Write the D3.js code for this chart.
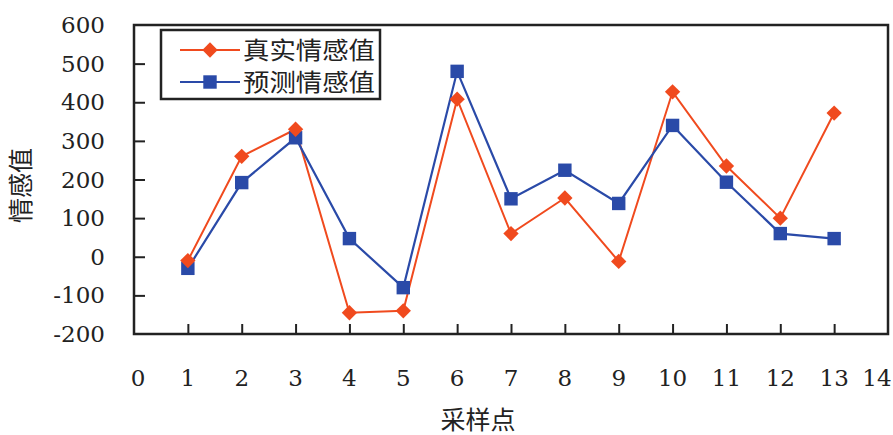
<!DOCTYPE html>
<html>
<head>
<meta charset="utf-8">
<script src="https://cdn.jsdelivr.net/npm/d3@7"></script>
<style>
  body { margin: 0; background: #fff; }
  svg text.num { font-family: "DejaVu Serif", serif; }
  svg text.cjk { font-family: "Noto Sans CJK SC", sans-serif; }
</style>
</head>
<body>
<div id="chart-area"></div>
<script>
// sample points and the two series
const points = [1, 2, 3, 4, 5, 6, 7, 8, 9, 10, 11, 12, 13];
const realValues = [-10, 260, 330, -145, -140, 408, 60, 152, -12, 427, 235, 100, 372];
const predValues = [-30, 192, 308, 47, -80, 480, 150, 224, 138, 340, 193, 60, 47];
const xTicks = [0, 1, 2, 3, 4, 5, 6, 7, 8, 9, 10, 11, 12, 13, 14];
const yTicks = [-200, -100, 0, 100, 200, 300, 400, 500, 600];
const seriesNames = ["真实情感值", "预测情感值"];

const red = "#f04a1e";
const blue = "#2a4aa8";

const W = 893, H = 435;
const margin = { top: 25, right: 5, bottom: 101, left: 134 };
const width = W - margin.left - margin.right;
const height = H - margin.top - margin.bottom;

const svg = d3.select("#chart-area")
    .append("svg")
    .attr("width", W)
    .attr("height", H);

const g = svg.append("g")
    .attr("transform", "translate(" + margin.left + "," + margin.top + ")");

const x = d3.scaleLinear().domain([0, 14]).range([0, width]);
const y = d3.scaleLinear().domain([-200, 600]).range([height, 0]);

/** Axes: ticks point inward, labels placed by hand */
const bottomAxis = d3.axisBottom(x)
    .tickValues(points)
    .tickSize(-10)
    .tickFormat("");
g.append("g")
    .attr("transform", "translate(0," + height + ")")
    .call(bottomAxis)
    .call(s => s.select(".domain").remove());

const leftAxis = d3.axisLeft(y)
    .tickValues(yTicks.slice(1, -1))
    .tickSize(-11)
    .tickFormat("");
g.append("g")
    .call(leftAxis)
    .call(s => s.select(".domain").remove());

g.selectAll(".tick line").attr("stroke", "#222").attr("stroke-width", 2);

// frame
g.append("rect")
    .attr("x", 0).attr("y", 0)
    .attr("width", width).attr("height", height)
    .attr("fill", "none")
    .attr("stroke", "#222")
    .attr("stroke-width", 2.5);

// y tick labels
g.selectAll(".ylab")
    .data(yTicks)
    .enter()
    .append("text")
    .attr("class", "num")
    .attr("x", -29)
    .attr("y", d => y(d))
    .attr("dy", "0.35em")
    .attr("text-anchor", "end")
    .attr("font-size", "23px")
    .attr("fill", "#222")
    .text(d => d);

// x tick labels
g.selectAll(".xlab")
    .data(xTicks)
    .enter()
    .append("text")
    .attr("class", "num")
    .attr("x", d => x(d) + (d === 0 ? 4 : d === 14 ? -11 : 0))
    .attr("y", height + 52)
    .attr("text-anchor", "middle")
    .attr("font-size", "23px")
    .attr("fill", "#222")
    .text(d => d);

/** Titles */
g.append("text")
    .attr("class", "cjk")
    .attr("transform", "translate(" + (-104) + "," + (height / 2 + 6) + ") rotate(-90)")
    .attr("text-anchor", "middle")
    .attr("font-size", "25px")
    .attr("fill", "#222")
    .text("情感值");

g.append("text")
    .attr("class", "cjk")
    .attr("x", 344)
    .attr("y", height + 95)
    .attr("text-anchor", "middle")
    .attr("font-size", "25px")
    .attr("fill", "#222")
    .text("采样点");

/** Lines */
const line = d3.line()
    .x((d, i) => x(points[i]))
    .y(d => y(d));

g.append("path")
    .datum(realValues)
    .attr("d", line)
    .attr("fill", "none")
    .attr("stroke", red)
    .attr("stroke-width", 2);

g.append("path")
    .datum(predValues)
    .attr("d", line)
    .attr("fill", "none")
    .attr("stroke", blue)
    .attr("stroke-width", 2.2);

const diamond = d3.symbol().type(d3.symbolDiamond2).size(150);
const square = d3.symbol().type(d3.symbolSquare).size(180);

g.selectAll(".pred")
    .data(predValues)
    .enter()
    .append("path")
    .attr("class", "pred")
    .attr("d", square)
    .attr("transform", (d, i) => "translate(" + x(points[i]) + "," + y(d) + ")")
    .attr("fill", blue);

g.selectAll(".real")
    .data(realValues)
    .enter()
    .append("path")
    .attr("class", "real")
    .attr("d", diamond)
    .attr("transform", (d, i) => "translate(" + x(points[i]) + "," + y(d) + ")")
    .attr("fill", red);

/** Legend */
const legend = svg.append("g").attr("transform", "translate(161,30)");
legend.append("rect")
    .attr("width", 219).attr("height", 69)
    .attr("fill", "#fff")
    .attr("stroke", "#222")
    .attr("stroke-width", 2.5);

const legendItems = [
    { name: seriesNames[0], colour: red, sym: diamond },
    { name: seriesNames[1], colour: blue, sym: square }
];
legendItems.forEach((d, i) => {
    const ly = 20 + i * 32;
    legend.append("line")
        .attr("x1", 19).attr("x2", 79)
        .attr("y1", ly).attr("y2", ly)
        .attr("stroke", d.colour)
        .attr("stroke-width", 2);
    legend.append("path")
        .attr("d", d.sym)
        .attr("transform", "translate(49," + ly + ")")
        .attr("fill", d.colour);
    legend.append("text")
        .attr("class", "cjk")
        .attr("x", 82)
        .attr("y", ly)
        .attr("dy", "0.36em")
        .attr("font-size", "24px")
        .attr("textLength", 132)
        .attr("lengthAdjust", "spacingAndGlyphs")
        .attr("fill", "#222")
        .text(d.name);
});
</script>
</body>
</html>
